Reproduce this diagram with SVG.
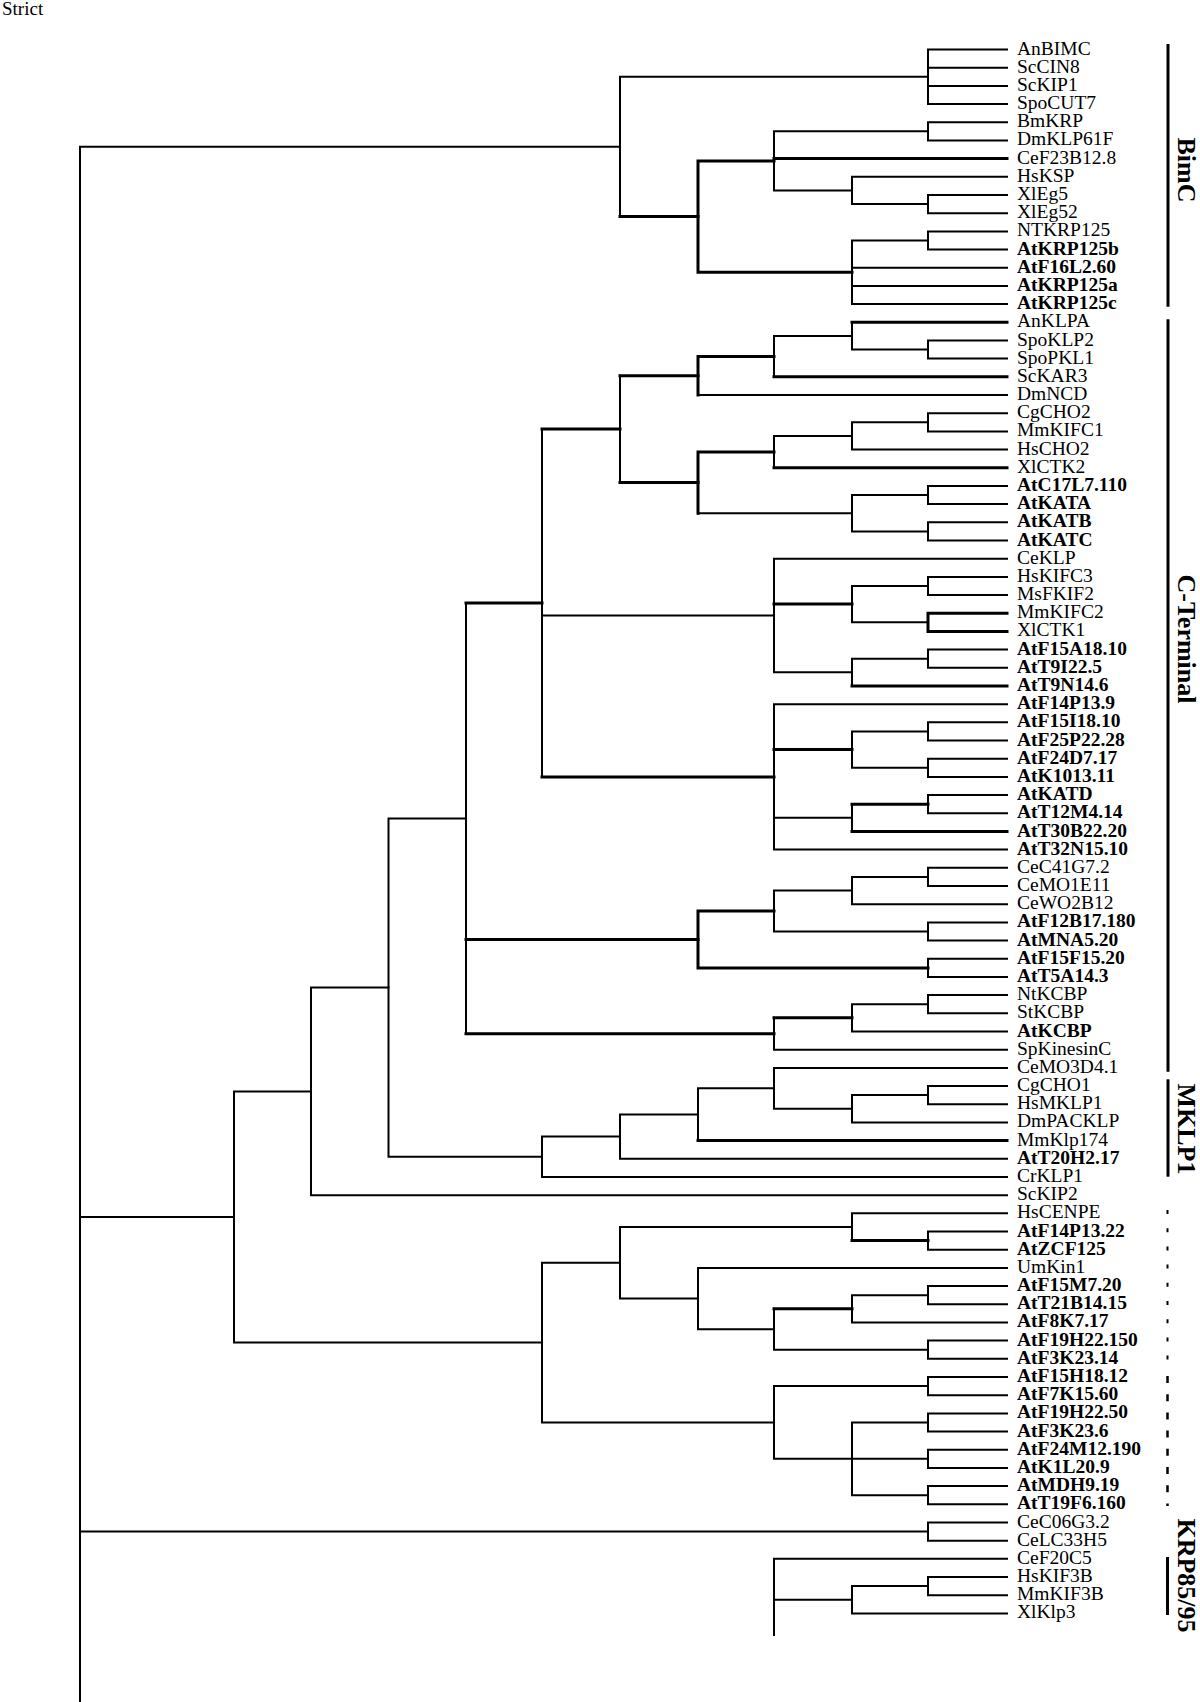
<svg xmlns="http://www.w3.org/2000/svg" width="1200" height="1702" viewBox="0 0 1200 1702">
<style>
.e{fill:none;stroke:#000;stroke-width:2;stroke-linecap:square}
.t{fill:none;stroke:#000;stroke-width:3;stroke-linecap:square}
text{font-family:"Liberation Serif","Times New Roman",serif;fill:#000}
.lf{font-size:19.5px}
.lb{font-size:19.5px;font-weight:bold}
.cl{font-size:26px;font-weight:bold;text-anchor:middle}
.bar{fill:none;stroke:#000;stroke-width:3}
</style>
<rect width="1200" height="1702" fill="#fff"/>
<text x="2" y="15" style="font-size:19px">Strict</text>
<g id="connectors">
<path class="e" d="M928 49.5V104.1M928 49.5H1007M928 67.7H1007M928 85.9H1007M928 104.1H1007"/>
<path class="e" d="M928 122.2V140.4M928 122.2H1007M928 140.4H1007"/>
<path class="e" d="M928 195V213.2M928 195H1007M928 213.2H1007"/>
<path class="e" d="M852 176.8V204.1M852 176.8H1007M852 204.1H928"/>
<path class="e" d="M774 131.3V190.5M774 131.3H928M774 190.5H852"/>
<path class="t" d="M774 158.6H1007"/>
<path class="e" d="M928 231.4V249.5M928 231.4H1007M928 249.5H1007"/>
<path class="e" d="M852 240.5V304.1M852 240.5H928M852 267.7H1007M852 285.9H1007M852 304.1H1007"/>
<path class="t" d="M698 160.9V272.3M698 160.9H774M698 272.3H852"/>
<path class="e" d="M620 76.8V216.6M620 76.8H928"/>
<path class="t" d="M620 216.6H698"/>
<path class="e" d="M80 146.7V1702M80 146.7H620M80 1217H234M80 1531.6H928"/>
<path class="e" d="M928 340.5V358.6M928 340.5H1007M928 358.6H1007"/>
<path class="e" d="M852 322.3V349.6M852 349.6H928"/>
<path class="t" d="M852 322.3H1007"/>
<path class="e" d="M774 336V376.8M774 336H852"/>
<path class="t" d="M774 376.8H1007"/>
<path class="t" d="M698 356.4V395M698 356.4H774"/>
<path class="e" d="M698 395H1007"/>
<path class="e" d="M928 413.2V431.4M928 413.2H1007M928 431.4H1007"/>
<path class="e" d="M852 422.3V449.6M852 422.3H928M852 449.6H1007"/>
<path class="e" d="M774 436V467.8M774 436H852"/>
<path class="t" d="M774 467.8H1007"/>
<path class="e" d="M928 485.9V504.1M928 485.9H1007M928 504.1H1007"/>
<path class="e" d="M928 522.3V540.5M928 522.3H1007M928 540.5H1007"/>
<path class="e" d="M852 495V531.4M852 495H928M852 531.4H928"/>
<path class="t" d="M698 451.9V513.2M698 451.9H774"/>
<path class="e" d="M698 513.2H852"/>
<path class="e" d="M620 375.7V482.6"/>
<path class="t" d="M620 375.7H698M620 482.6H698"/>
<path class="e" d="M928 576.9V595M928 576.9H1007M928 595H1007"/>
<path class="t" d="M928 613.2V631.4M928 613.2H1007M928 631.4H1007"/>
<path class="e" d="M852 586V622.3M852 586H928M852 622.3H928"/>
<path class="e" d="M928 649.6V667.8M928 649.6H1007M928 667.8H1007"/>
<path class="e" d="M852 658.7V686M852 658.7H928"/>
<path class="t" d="M852 686H1007"/>
<path class="e" d="M774 558.7V672.3M774 558.7H1007M774 672.3H852"/>
<path class="t" d="M774 604.1H852"/>
<path class="e" d="M928 722.3V740.5M928 722.3H1007M928 740.5H1007"/>
<path class="e" d="M928 758.7V776.9M928 758.7H1007M928 776.9H1007"/>
<path class="e" d="M852 731.4V767.8M852 731.4H928M852 767.8H928"/>
<path class="e" d="M928 795.1V813.3M928 795.1H1007M928 813.3H1007"/>
<path class="e" d="M852 804.2V831.5"/>
<path class="t" d="M852 804.2H928M852 831.5H1007"/>
<path class="e" d="M774 704.2V849.6M774 704.2H1007M774 817.8H852M774 849.6H1007"/>
<path class="t" d="M774 749.6H852"/>
<path class="e" d="M542 429.1V776.9M542 615.5H774"/>
<path class="t" d="M542 429.1H620M542 776.9H774"/>
<path class="e" d="M928 867.8V886M928 867.8H1007M928 886H1007"/>
<path class="e" d="M852 876.9V904.2M852 876.9H928M852 904.2H1007"/>
<path class="e" d="M928 922.4V940.6M928 922.4H1007M928 940.6H1007"/>
<path class="e" d="M774 890.5V931.5M774 890.5H852M774 931.5H928"/>
<path class="e" d="M928 958.8V976.9M928 958.8H1007M928 976.9H1007"/>
<path class="t" d="M698 911V967.9M698 911H774M698 967.9H928"/>
<path class="e" d="M928 995.1V1013.3M928 995.1H1007M928 1013.3H1007"/>
<path class="e" d="M852 1004.2V1031.5M852 1004.2H928M852 1031.5H1007"/>
<path class="e" d="M774 1017.8V1049.7M774 1049.7H1007"/>
<path class="t" d="M774 1017.8H852"/>
<path class="e" d="M466 603V1033.8"/>
<path class="t" d="M466 603H542M466 939.4H698M466 1033.8H774"/>
<path class="e" d="M928 1086V1104.2M928 1086H1007M928 1104.2H1007"/>
<path class="e" d="M852 1095.1V1122.4M852 1095.1H928M852 1122.4H1007"/>
<path class="e" d="M774 1067.9V1108.8M774 1067.9H1007M774 1108.8H852"/>
<path class="e" d="M698 1088.3V1140.6M698 1088.3H774"/>
<path class="t" d="M698 1140.6H1007"/>
<path class="e" d="M620 1114.5V1158.8M620 1114.5H698M620 1158.8H1007"/>
<path class="e" d="M542 1136.6V1177M542 1136.6H620M542 1177H1007"/>
<path class="e" d="M388.5 818.4V1156.8M388.5 818.4H466M388.5 1156.8H542"/>
<path class="e" d="M311 987.6V1195.2M311 987.6H388.5M311 1195.2H1007"/>
<path class="e" d="M234 1091.4V1342.6M234 1091.4H311M234 1342.6H542"/>
<path class="e" d="M928 1231.5V1249.7M928 1231.5H1007M928 1249.7H1007"/>
<path class="e" d="M852 1213.3V1240.6M852 1213.3H1007"/>
<path class="t" d="M852 1240.6H928"/>
<path class="e" d="M928 1286.1V1304.3M928 1286.1H1007M928 1304.3H1007"/>
<path class="e" d="M852 1295.2V1322.4M852 1295.2H928M852 1322.4H1007"/>
<path class="e" d="M928 1340.6V1358.8M928 1340.6H1007M928 1358.8H1007"/>
<path class="e" d="M774 1308.8V1349.7M774 1349.7H928"/>
<path class="t" d="M774 1308.8H852"/>
<path class="e" d="M698 1267.9V1329.3M698 1267.9H1007M698 1329.3H774"/>
<path class="e" d="M620 1227V1298.6M620 1227H852M620 1298.6H698"/>
<path class="e" d="M928 1377V1395.2M928 1377H1007M928 1395.2H1007"/>
<path class="e" d="M928 1413.4V1431.6M928 1413.4H1007M928 1431.6H1007"/>
<path class="e" d="M928 1449.7V1467.9M928 1449.7H1007M928 1467.9H1007"/>
<path class="e" d="M928 1486.1V1504.3M928 1486.1H1007M928 1504.3H1007"/>
<path class="e" d="M852 1422.5V1495.2M852 1422.5H928M852 1458.8H928M852 1495.2H928"/>
<path class="e" d="M774 1386.1V1458.8M774 1386.1H928M774 1458.8H852"/>
<path class="e" d="M542 1262.8V1422.5M542 1262.8H620M542 1422.5H774"/>
<path class="e" d="M928 1522.5V1540.7M928 1522.5H1007M928 1540.7H1007"/>
<path class="e" d="M928 1577V1595.2M928 1577H1007M928 1595.2H1007"/>
<path class="e" d="M852 1586.1V1613.4M852 1586.1H928M852 1613.4H1007"/>
<path class="e" d="M774 1558.8V1635M774 1558.8H1007M774 1599.8H852"/>
</g>
<g id="leaves">
<g id="n-AnBIMC"><text class="lf" x="1017" y="54.5">AnBIMC</text></g>
<g id="n-ScCIN8"><text class="lf" x="1017" y="72.7">ScCIN8</text></g>
<g id="n-ScKIP1"><text class="lf" x="1017" y="90.9">ScKIP1</text></g>
<g id="n-SpoCUT7"><text class="lf" x="1017" y="109.1">SpoCUT7</text></g>
<g id="n-BmKRP"><text class="lf" x="1017" y="127.2">BmKRP</text></g>
<g id="n-DmKLP61F"><text class="lf" x="1017" y="145.4">DmKLP61F</text></g>
<g id="n-CeF23B12.8"><text class="lf" x="1017" y="163.6">CeF23B12.8</text></g>
<g id="n-HsKSP"><text class="lf" x="1017" y="181.8">HsKSP</text></g>
<g id="n-XlEg5"><text class="lf" x="1017" y="200">XlEg5</text></g>
<g id="n-XlEg52"><text class="lf" x="1017" y="218.2">XlEg52</text></g>
<g id="n-NTKRP125"><text class="lf" x="1017" y="236.4">NTKRP125</text></g>
<g id="n-AtKRP125b"><text class="lb" x="1017" y="254.5">AtKRP125b</text></g>
<g id="n-AtF16L2.60"><text class="lb" x="1017" y="272.7">AtF16L2.60</text></g>
<g id="n-AtKRP125a"><text class="lb" x="1017" y="290.9">AtKRP125a</text></g>
<g id="n-AtKRP125c"><text class="lb" x="1017" y="309.1">AtKRP125c</text></g>
<g id="n-AnKLPA"><text class="lf" x="1017" y="327.3">AnKLPA</text></g>
<g id="n-SpoKLP2"><text class="lf" x="1017" y="345.5">SpoKLP2</text></g>
<g id="n-SpoPKL1"><text class="lf" x="1017" y="363.6">SpoPKL1</text></g>
<g id="n-ScKAR3"><text class="lf" x="1017" y="381.8">ScKAR3</text></g>
<g id="n-DmNCD"><text class="lf" x="1017" y="400">DmNCD</text></g>
<g id="n-CgCHO2"><text class="lf" x="1017" y="418.2">CgCHO2</text></g>
<g id="n-MmKIFC1"><text class="lf" x="1017" y="436.4">MmKIFC1</text></g>
<g id="n-HsCHO2"><text class="lf" x="1017" y="454.6">HsCHO2</text></g>
<g id="n-XlCTK2"><text class="lf" x="1017" y="472.8">XlCTK2</text></g>
<g id="n-AtC17L7.110"><text class="lb" x="1017" y="490.9">AtC17L7.110</text></g>
<g id="n-AtKATA"><text class="lb" x="1017" y="509.1">AtKATA</text></g>
<g id="n-AtKATB"><text class="lb" x="1017" y="527.3">AtKATB</text></g>
<g id="n-AtKATC"><text class="lb" x="1017" y="545.5">AtKATC</text></g>
<g id="n-CeKLP"><text class="lf" x="1017" y="563.7">CeKLP</text></g>
<g id="n-HsKIFC3"><text class="lf" x="1017" y="581.9">HsKIFC3</text></g>
<g id="n-MsFKIF2"><text class="lf" x="1017" y="600">MsFKIF2</text></g>
<g id="n-MmKIFC2"><text class="lf" x="1017" y="618.2">MmKIFC2</text></g>
<g id="n-XlCTK1"><text class="lf" x="1017" y="636.4">XlCTK1</text></g>
<g id="n-AtF15A18.10"><text class="lb" x="1017" y="654.6">AtF15A18.10</text></g>
<g id="n-AtT9I22.5"><text class="lb" x="1017" y="672.8">AtT9I22.5</text></g>
<g id="n-AtT9N14.6"><text class="lb" x="1017" y="691">AtT9N14.6</text></g>
<g id="n-AtF14P13.9"><text class="lb" x="1017" y="709.2">AtF14P13.9</text></g>
<g id="n-AtF15I18.10"><text class="lb" x="1017" y="727.3">AtF15I18.10</text></g>
<g id="n-AtF25P22.28"><text class="lb" x="1017" y="745.5">AtF25P22.28</text></g>
<g id="n-AtF24D7.17"><text class="lb" x="1017" y="763.7">AtF24D7.17</text></g>
<g id="n-AtK1013.11"><text class="lb" x="1017" y="781.9">AtK1013.11</text></g>
<g id="n-AtKATD"><text class="lb" x="1017" y="800.1">AtKATD</text></g>
<g id="n-AtT12M4.14"><text class="lb" x="1017" y="818.3">AtT12M4.14</text></g>
<g id="n-AtT30B22.20"><text class="lb" x="1017" y="836.5">AtT30B22.20</text></g>
<g id="n-AtT32N15.10"><text class="lb" x="1017" y="854.6">AtT32N15.10</text></g>
<g id="n-CeC41G7.2"><text class="lf" x="1017" y="872.8">CeC41G7.2</text></g>
<g id="n-CeMO1E11"><text class="lf" x="1017" y="891">CeMO1E11</text></g>
<g id="n-CeWO2B12"><text class="lf" x="1017" y="909.2">CeWO2B12</text></g>
<g id="n-AtF12B17.180"><text class="lb" x="1017" y="927.4">AtF12B17.180</text></g>
<g id="n-AtMNA5.20"><text class="lb" x="1017" y="945.6">AtMNA5.20</text></g>
<g id="n-AtF15F15.20"><text class="lb" x="1017" y="963.8">AtF15F15.20</text></g>
<g id="n-AtT5A14.3"><text class="lb" x="1017" y="981.9">AtT5A14.3</text></g>
<g id="n-NtKCBP"><text class="lf" x="1017" y="1000.1">NtKCBP</text></g>
<g id="n-StKCBP"><text class="lf" x="1017" y="1018.3">StKCBP</text></g>
<g id="n-AtKCBP"><text class="lb" x="1017" y="1036.5">AtKCBP</text></g>
<g id="n-SpKinesinC"><text class="lf" x="1017" y="1054.7">SpKinesinC</text></g>
<g id="n-CeMO3D4.1"><text class="lf" x="1017" y="1072.9">CeMO3D4.1</text></g>
<g id="n-CgCHO1"><text class="lf" x="1017" y="1091">CgCHO1</text></g>
<g id="n-HsMKLP1"><text class="lf" x="1017" y="1109.2">HsMKLP1</text></g>
<g id="n-DmPACKLP"><text class="lf" x="1017" y="1127.4">DmPACKLP</text></g>
<g id="n-MmKlp174"><text class="lf" x="1017" y="1145.6">MmKlp174</text></g>
<g id="n-AtT20H2.17"><text class="lb" x="1017" y="1163.8">AtT20H2.17</text></g>
<g id="n-CrKLP1"><text class="lf" x="1017" y="1182">CrKLP1</text></g>
<g id="n-ScKIP2"><text class="lf" x="1017" y="1200.2">ScKIP2</text></g>
<g id="n-HsCENPE"><text class="lf" x="1017" y="1218.3">HsCENPE</text></g>
<g id="n-AtF14P13.22"><text class="lb" x="1017" y="1236.5">AtF14P13.22</text></g>
<g id="n-AtZCF125"><text class="lb" x="1017" y="1254.7">AtZCF125</text></g>
<g id="n-UmKin1"><text class="lf" x="1017" y="1272.9">UmKin1</text></g>
<g id="n-AtF15M7.20"><text class="lb" x="1017" y="1291.1">AtF15M7.20</text></g>
<g id="n-AtT21B14.15"><text class="lb" x="1017" y="1309.3">AtT21B14.15</text></g>
<g id="n-AtF8K7.17"><text class="lb" x="1017" y="1327.4">AtF8K7.17</text></g>
<g id="n-AtF19H22.150"><text class="lb" x="1017" y="1345.6">AtF19H22.150</text></g>
<g id="n-AtF3K23.14"><text class="lb" x="1017" y="1363.8">AtF3K23.14</text></g>
<g id="n-AtF15H18.12"><text class="lb" x="1017" y="1382">AtF15H18.12</text></g>
<g id="n-AtF7K15.60"><text class="lb" x="1017" y="1400.2">AtF7K15.60</text></g>
<g id="n-AtF19H22.50"><text class="lb" x="1017" y="1418.4">AtF19H22.50</text></g>
<g id="n-AtF3K23.6"><text class="lb" x="1017" y="1436.6">AtF3K23.6</text></g>
<g id="n-AtF24M12.190"><text class="lb" x="1017" y="1454.7">AtF24M12.190</text></g>
<g id="n-AtK1L20.9"><text class="lb" x="1017" y="1472.9">AtK1L20.9</text></g>
<g id="n-AtMDH9.19"><text class="lb" x="1017" y="1491.1">AtMDH9.19</text></g>
<g id="n-AtT19F6.160"><text class="lb" x="1017" y="1509.3">AtT19F6.160</text></g>
<g id="n-CeC06G3.2"><text class="lf" x="1017" y="1527.5">CeC06G3.2</text></g>
<g id="n-CeLC33H5"><text class="lf" x="1017" y="1545.7">CeLC33H5</text></g>
<g id="n-CeF20C5"><text class="lf" x="1017" y="1563.8">CeF20C5</text></g>
<g id="n-HsKIF3B"><text class="lf" x="1017" y="1582">HsKIF3B</text></g>
<g id="n-MmKIF3B"><text class="lf" x="1017" y="1600.2">MmKIF3B</text></g>
<g id="n-XlKlp3"><text class="lf" x="1017" y="1618.4">XlKlp3</text></g>
</g>
<g id="clade-BimC"><path class="bar" d="M1168 44V306.7"/><text class="cl" transform="translate(1178 170) rotate(90)">BimC</text></g>
<g id="clade-CTerminal"><path class="bar" d="M1168 319.3V1071.7"/><text class="cl" transform="translate(1178 639) rotate(90)">C-Terminal</text></g>
<g id="clade-MKLP1"><path class="bar" d="M1168 1079.3V1176.7"/><text class="cl" transform="translate(1178 1129) rotate(90)">MKLP1</text></g>
<g id="clade-dashed"><path d="M1167.5 1210V1362" stroke="#000" stroke-width="2" stroke-dasharray="4 14.2"/><path d="M1167.5 1376V1506" stroke="#000" stroke-width="2.5" stroke-dasharray="7 11.2"/></g>
<g id="clade-KRP85-95"><path class="bar" d="M1167.5 1557V1615"/><text class="cl" transform="translate(1178 1575.5) rotate(90)">KRP85/95</text></g>
</svg>
